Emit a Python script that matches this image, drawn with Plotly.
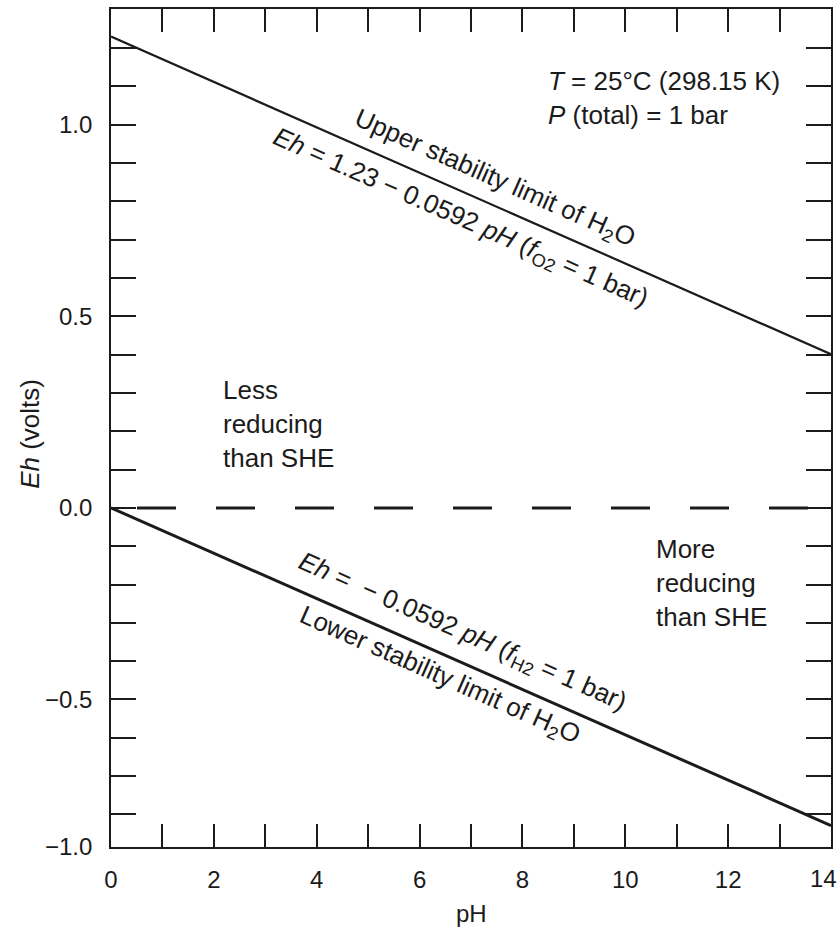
import math
import numpy as np
import plotly.graph_objects as go

# pH span of the stability field
ph = [0, 14]
# Upper limit of water: O2/H2O couple at f_O2 = 1 bar (volts)
eh_upper = [1.23, 0.401]
# Lower limit of water: H2/H2O couple at f_H2 = 1 bar (volts)
eh_lower = [0.0, -0.829]
# Standard hydrogen electrode reference level (volts)
eh_she = [0.0, 0.0]

x_tick_values = [0, 1, 2, 3, 4, 5, 6, 7, 8, 9, 10, 11, 12, 13, 14]
x_tick_labels = ["0", "", "2", "", "4", "", "6", "", "8", "", "10", "", "12", "", "14"]

y_tick_values = [-0.885, -0.8, -0.7, -0.6, -0.5, -0.4, -0.3, -0.2, -0.1, 0.0,
                 0.1, 0.2, 0.3, 0.4, 0.5, 0.6, 0.7, 0.8, 0.9, 1.0, 1.1, 1.2]
y_tick_labels = ["\u22121.0", "", "", "", "\u22120.5", "", "", "", "", "0.0",
                 "", "", "", "", "0.5", "", "", "", "", "1.0", "", ""]

X_RANGE = [0, 14]
Y_RANGE = [-0.885, 1.302]

W, H = 840, 932
M = dict(l=111, r=8, t=7, b=85)
FONT = "Liberation Sans, Arial, Helvetica, sans-serif"
INK = "#1b1b1b"
TICK_SIZE = 24

px_per_x = (W - M["l"] - M["r"]) / (X_RANGE[1] - X_RANGE[0])
px_per_y = (H - M["t"] - M["b"]) / (Y_RANGE[1] - Y_RANGE[0])


def on_line(p, xs, ys):
    return float(np.interp(p, xs, ys))


def screen_angle(xs, ys):
    slope = (ys[1] - ys[0]) / (xs[1] - xs[0])
    return -math.degrees(math.atan(slope * px_per_y / px_per_x))


fig = go.Figure()

fig.add_trace(go.Scatter(x=ph, y=eh_she, mode="lines",
                         line=dict(color=INK, width=3, dash="0px,26px,39px,14px"),
                         hoverinfo="skip", showlegend=False))
fig.add_trace(go.Scatter(x=ph, y=eh_upper, mode="lines",
                         line=dict(color=INK, width=2.2),
                         hoverinfo="skip", showlegend=False))
fig.add_trace(go.Scatter(x=ph, y=eh_lower, mode="lines",
                         line=dict(color=INK, width=3),
                         hoverinfo="skip", showlegend=False))

ang_up = screen_angle(ph, eh_upper)
ang_lo = screen_angle(ph, eh_lower)

ann_font = dict(family=FONT, size=26, color=INK)
annotations = [
    # labels along the O2/H2O line
    dict(x=7.45, y=on_line(7.45, ph, eh_upper), yshift=27,
         text="Upper stability limit of H<sub>2</sub>O", textangle=ang_up),
    dict(x=6.8, y=on_line(6.8, ph, eh_upper), yshift=-28,
         text="<i>Eh</i> = 1.23 \u2212 0.0592 <i>pH</i> (<i>f</i><sub>O2</sub> = 1 bar)",
         textangle=ang_up),
    # labels along the H2/H2O line
    dict(x=6.84, y=on_line(6.84, ph, eh_lower), yshift=31,
         text="<i>Eh</i> =  \u2212 0.0592 <i>pH</i> (<i>f</i><sub>H2</sub> = 1 bar)",
         textangle=ang_lo),
    dict(x=6.38, y=on_line(6.38, ph, eh_lower), yshift=-23,
         text="Lower stability limit of H<sub>2</sub>O", textangle=ang_lo),
]
for a in annotations:
    a.update(xref="x", yref="y", showarrow=False, xanchor="center",
             yanchor="middle", font=ann_font)

annotations += [
    dict(x=8.45, y=1.071, xref="x", yref="y", xanchor="left", yanchor="middle",
         align="left", showarrow=False, font=ann_font,
         text="<i>T</i> = 25\u00b0C (298.15 K)<br><i>P</i> (total) = 1 bar"),
    dict(x=2.14, y=0.219, xref="x", yref="y", xanchor="left", yanchor="middle",
         align="left", showarrow=False, font=ann_font,
         text="Less<br>reducing<br>than SHE"),
    dict(x=10.56, y=-0.195, xref="x", yref="y", xanchor="left", yanchor="middle",
         align="left", showarrow=False, font=ann_font,
         text="More<br>reducing<br>than SHE"),
    # last pH label, kept inside the page edge
    dict(x=x_tick_values[-1], y=0, xref="x", yref="paper", xanchor="right",
         yanchor="middle", xshift=8, yshift=-31, showarrow=False,
         font=dict(family=FONT, size=TICK_SIZE, color=INK), text=x_tick_labels[-1]),
    # axis titles
    dict(x=0, y=0.493, xref="paper", yref="paper", xshift=-81,
         xanchor="center", yanchor="middle", showarrow=False, textangle=-90,
         font=dict(family=FONT, size=26, color=INK), text="<i>Eh</i> (volts)"),
    dict(x=0.5, y=0, xref="paper", yref="paper", yshift=-66,
         xanchor="center", yanchor="middle", showarrow=False,
         font=dict(family=FONT, size=24, color=INK), text="pH"),
]

axis_common = dict(showline=True, linecolor=INK, linewidth=1.6, mirror="allticks",
                   ticks="inside", tickcolor=INK, tickwidth=1.6,
                   showgrid=False, zeroline=False,
                   tickfont=dict(family=FONT, size=TICK_SIZE, color=INK))

fig.update_layout(
    width=W, height=H, margin=M,
    paper_bgcolor="white", plot_bgcolor="white",
    xaxis=dict(range=X_RANGE, tickmode="array", tickvals=x_tick_values,
               ticktext=x_tick_labels[:-1] + [""], ticklen=23, ticklabelstandoff=10,
               **axis_common),
    yaxis=dict(range=Y_RANGE, tickmode="array", tickvals=y_tick_values,
               ticktext=y_tick_labels, ticklen=25, ticklabelstandoff=12,
               **axis_common),
    annotations=annotations,
    showlegend=False,
)

fig.write_html("out.html")
